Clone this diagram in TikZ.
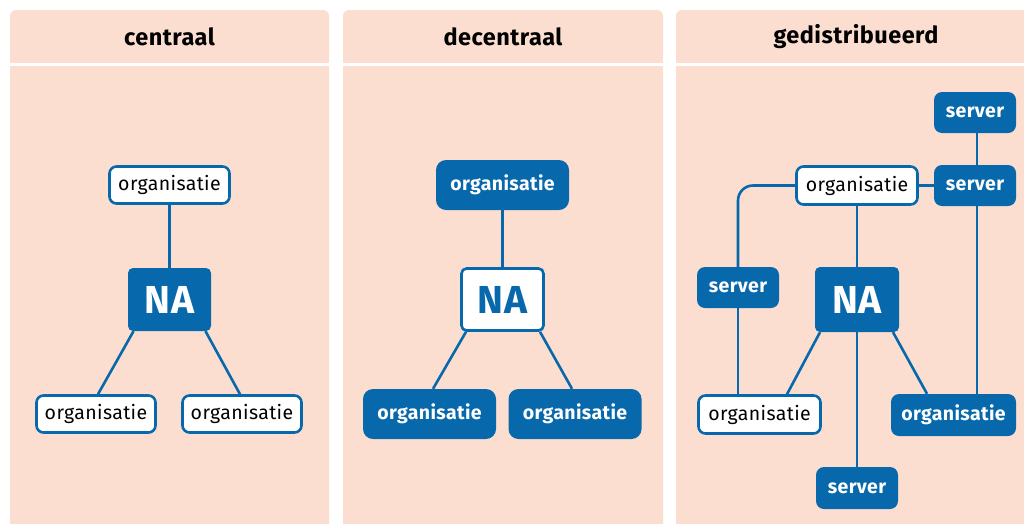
\documentclass[tikz,border=0pt]{standalone}
\usepackage{fontspec}
\setmainfont{Fira Sans}[LetterSpace=2]
\usetikzlibrary{calc}
\definecolor{peach}{HTML}{FCDED0}
\definecolor{rijks}{HTML}{0868AC}
\pgfdeclarelayer{panels}
\pgfdeclarelayer{links}
\pgfsetlayers{panels,links,main}
\begin{document}
\begin{tikzpicture}[x=1pt,y=-1pt,
  link/.style={draw=rijks,line width=2.6pt},
  wbox/.style={draw=rijks,line width=2.6pt,fill=white,rounded corners=7pt,
    inner sep=0pt,text=black,font=\fontsize{19.5}{23}\selectfont},
  bbox/.style={fill=rijks,rounded corners=8pt,inner sep=0pt,text=white,
    font=\bfseries\fontsize{19.5}{23}\selectfont},
  nabig/.style={font=\bfseries\fontsize{39}{43}\selectfont},
  head/.style={font=\bfseries\fontsize{23.5}{27}\selectfont,text=black},
  sz/.style 2 args={minimum width=#1pt,minimum height=#2pt}
]
\useasboundingbox (0,0) rectangle (1024,523);

% panels with header band
\begin{pgfonlayer}{panels}
  \foreach \l/\r in {10/329, 343/663, 676/1040}{
    \fill[peach,rounded corners=6pt] (\l,540) rectangle (\r,10);
    \draw[white,line width=2.6pt] (\l,64.5) -- (\r,64.5);
  }
\end{pgfonlayer}
\node[head] (h1) at (169.5,37) {centraal};
\node[head] (h2) at (503,37) {decentraal};
\node[head] (h3) at (856,37) {gedistribueerd};

% centraal
\node[wbox,sz={120}{37}] (c_org) at (169.5,185) {organisatie};
\node[bbox,nabig,sz={83}{63},rounded corners=5pt] (c_na) at (169.5,299.5) {NA};
\node[wbox,sz={119}{37}] (c_l) at (96,414) {organisatie};
\node[wbox,sz={119}{37}] (c_r) at (242,414) {organisatie};

% decentraal
\node[bbox,sz={133}{50},rounded corners=10pt] (d_org) at (502.5,185) {organisatie};
\node[wbox,nabig,text=rijks,sz={82}{62},rounded corners=5pt] (d_na) at (502.5,299.5) {NA};
\node[bbox,sz={133}{50},rounded corners=10pt] (d_l) at (429.5,414) {organisatie};
\node[bbox,sz={133}{50},rounded corners=10pt] (d_r) at (575,414) {organisatie};

% gedistribueerd
\node[bbox,sz={82}{41}] (g_st) at (975,112.5) {server};
\node[bbox,sz={82}{41}] (g_sr) at (975,185.5) {server};
\node[wbox,sz={121}{38}] (g_org) at (857,185.5) {organisatie};
\node[bbox,sz={82}{41}] (g_sl) at (738,287.5) {server};
\node[bbox,nabig,sz={84}{65},rounded corners=5pt] (g_na) at (857,299.5) {NA};
\node[wbox,sz={122}{38}] (g_ol) at (759.5,414.5) {organisatie};
\node[bbox,sz={125}{42}] (g_or) at (953.5,415) {organisatie};
\node[bbox,sz={82}{42}] (g_sb) at (857,488) {server};

\begin{pgfonlayer}{links}
  % centraal
  \draw[link] (c_org) -- (c_na);
  \draw[link] ([xshift=-36pt]c_na.south) -- ([xshift=2pt]c_l.north);
  \draw[link] ([xshift=36pt]c_na.south) -- ([xshift=-2pt]c_r.north);
  % decentraal
  \draw[link] (d_org) -- (d_na);
  \draw[link] ([xshift=-36.5pt]d_na.south) -- ([xshift=3.5pt]d_l.north);
  \draw[link] ([xshift=37.5pt]d_na.south) -- ([xshift=-3pt]d_r.north);
  % gedistribueerd
  \draw[link] ([xshift=2pt]g_st.south) -- ([xshift=2pt]g_sr.north);
  \draw[link] ([xshift=2pt]g_sr.south) -- ([xshift=2pt]g_sr.south |- g_or.north);
  \draw[link] (g_org.east) -- (g_sr.west);
  \draw[link,rounded corners=15pt] (g_org.west) -| (g_sl.north);
  \draw[link] (g_sl.south) -- (g_sl.south |- g_ol.north);
  \draw[link] (g_org.south) -- (g_na.north);
  \draw[link] (g_na.south) -- (g_sb.north);
  \draw[link] ([xshift=-37pt]g_na.south) -- ([xshift=27.5pt]g_ol.north);
  \draw[link] ([xshift=36pt]g_na.south) -- ([xshift=-26.5pt]g_or.north);
\end{pgfonlayer}
\end{tikzpicture}
\end{document}
